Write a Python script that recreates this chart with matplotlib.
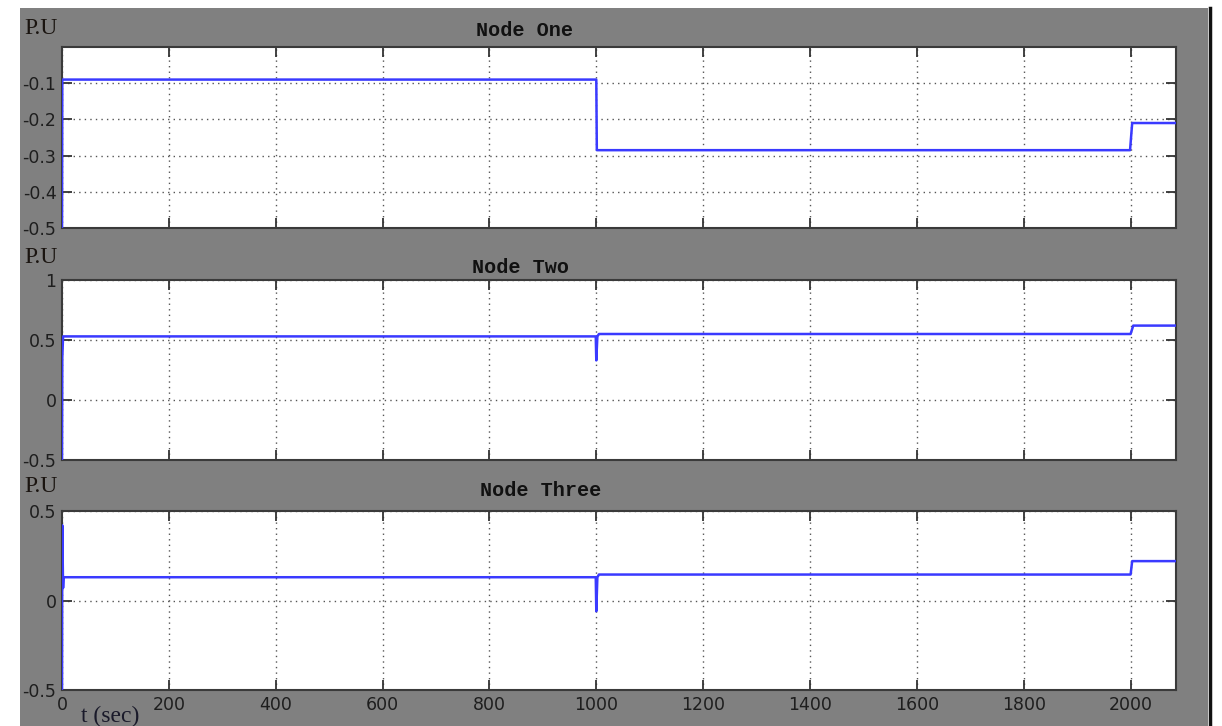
import matplotlib
matplotlib.use("Agg")
import matplotlib.pyplot as plt
from matplotlib.patches import Rectangle
from matplotlib.lines import Line2D

# ---- data ----
titles = ["Node One", "Node Two", "Node Three"]
x_ticks = [0, 200, 400, 600, 800, 1000, 1200, 1400, 1600, 1800, 2000]

t1 = [0, 0.5, 1000, 1001, 1999, 2003, 2085]
v1 = [-0.5, -0.09, -0.09, -0.285, -0.285, -0.21, -0.21]

t2 = [0, 0.5, 2, 999, 1000, 1002, 1005, 2000, 2005, 2085]
v2 = [-0.5, 0.35, 0.53, 0.53, 0.33, 0.53, 0.55, 0.55, 0.62, 0.62]

t3 = [0, 0.5, 2, 3, 999, 1000, 1002, 1005, 2000, 2003, 2085]
v3 = [-0.5, 0.42, 0.07, 0.13, 0.13, -0.06, 0.13, 0.145, 0.145, 0.22, 0.22]

y_ticks1 = [-0.5, -0.4, -0.3, -0.2, -0.1]
y_labels1 = ["-0.5", "-0.4", "-0.3", "-0.2", "-0.1"]
y_ticks2 = [-0.5, 0, 0.5, 1]
y_labels2 = ["-0.5", "0", "0.5", "1"]
y_ticks3 = [-0.5, 0, 0.5]
y_labels3 = ["-0.5", "0", "0.5"]

ylims = [(-0.5, 0.0), (-0.5, 1.0), (-0.5, 0.5)]

W, H = 1222, 726
fig = plt.figure(figsize=(W / 100, H / 100), dpi=100)
fig.patch.set_facecolor("white")

# gray window background
fig.patches.append(Rectangle((20 / W, 0), (1208 - 20) / W, 1 - 8 / H,
                             transform=fig.transFigure, facecolor="#808080",
                             edgecolor="none", zorder=-10))
fig.lines.append(Line2D([1210 / W, 1210 / W], [0, 1 - 8 / H], transform=fig.transFigure,
                        color="#111111", lw=2.5, zorder=-5))

tick_font = ["Liberation Sans Narrow", "DejaVu Sans"]
serif_font = ["Liberation Serif", "DejaVu Serif"]
mono_font = ["Liberation Mono", "DejaVu Sans Mono"]

# axes pixel boxes: (left, top, right, bottom)
boxes = [(62, 47, 1176, 228), (62, 280, 1176, 460), (62, 511, 1176, 690)]
series = [(t1, v1), (t2, v2), (t3, v3)]
yt = [(y_ticks1, y_labels1), (y_ticks2, y_labels2), (y_ticks3, y_labels3)]
title_pos = [(524, 30), (520, 268), (541, 491)]
pu_pos = [(24, 28), (24, 258), (24, 487)]

for i in range(3):
    l, t, r, b = boxes[i]
    ax = fig.add_axes([l / W, 1 - b / H, (r - l) / W, (b - t) / H])
    ax.set_facecolor("white")
    tt, vv = series[i]
    ax.plot(tt, vv, color="#3a3aff", lw=1.8, zorder=3)
    ax.set_xlim(0, 2085)
    ax.set_ylim(*ylims[i])
    ax.set_xticks(x_ticks)
    ax.set_yticks(yt[i][0])
    ax.set_yticklabels(yt[i][1])
    if i < 2:
        ax.set_xticklabels([])
    ax.grid(True, color="#555555", linestyle=(0, (1, 3)), lw=1.0)
    ax.tick_params(direction="in", length=7, width=1.3, color="#333333",
                   top=True, right=True, labelsize=12.5, labelcolor="#1e1e1e", pad=4)
    for lab in ax.get_xticklabels() + ax.get_yticklabels():
        lab.set_family(tick_font)
    for s in ax.spines.values():
        s.set_color("#3a3a3a")
        s.set_linewidth(1.5)
    fig.text(title_pos[i][0] / W, 1 - title_pos[i][1] / H, titles[i],
             ha="center", va="center", family=mono_font, fontsize=14.5,
             fontweight="bold", color="#111111")
    fig.text(pu_pos[i][0] / W, 1 - pu_pos[i][1] / H, "P.U",
             ha="left", va="center", family=serif_font, fontsize=17, color="#1a1410")

fig.text(81 / W, 1 - 716 / H, "t (sec)", ha="left", va="center",
         family=serif_font, fontsize=17, color="#1a1a2a")

fig.savefig("out.png", dpi=100)
